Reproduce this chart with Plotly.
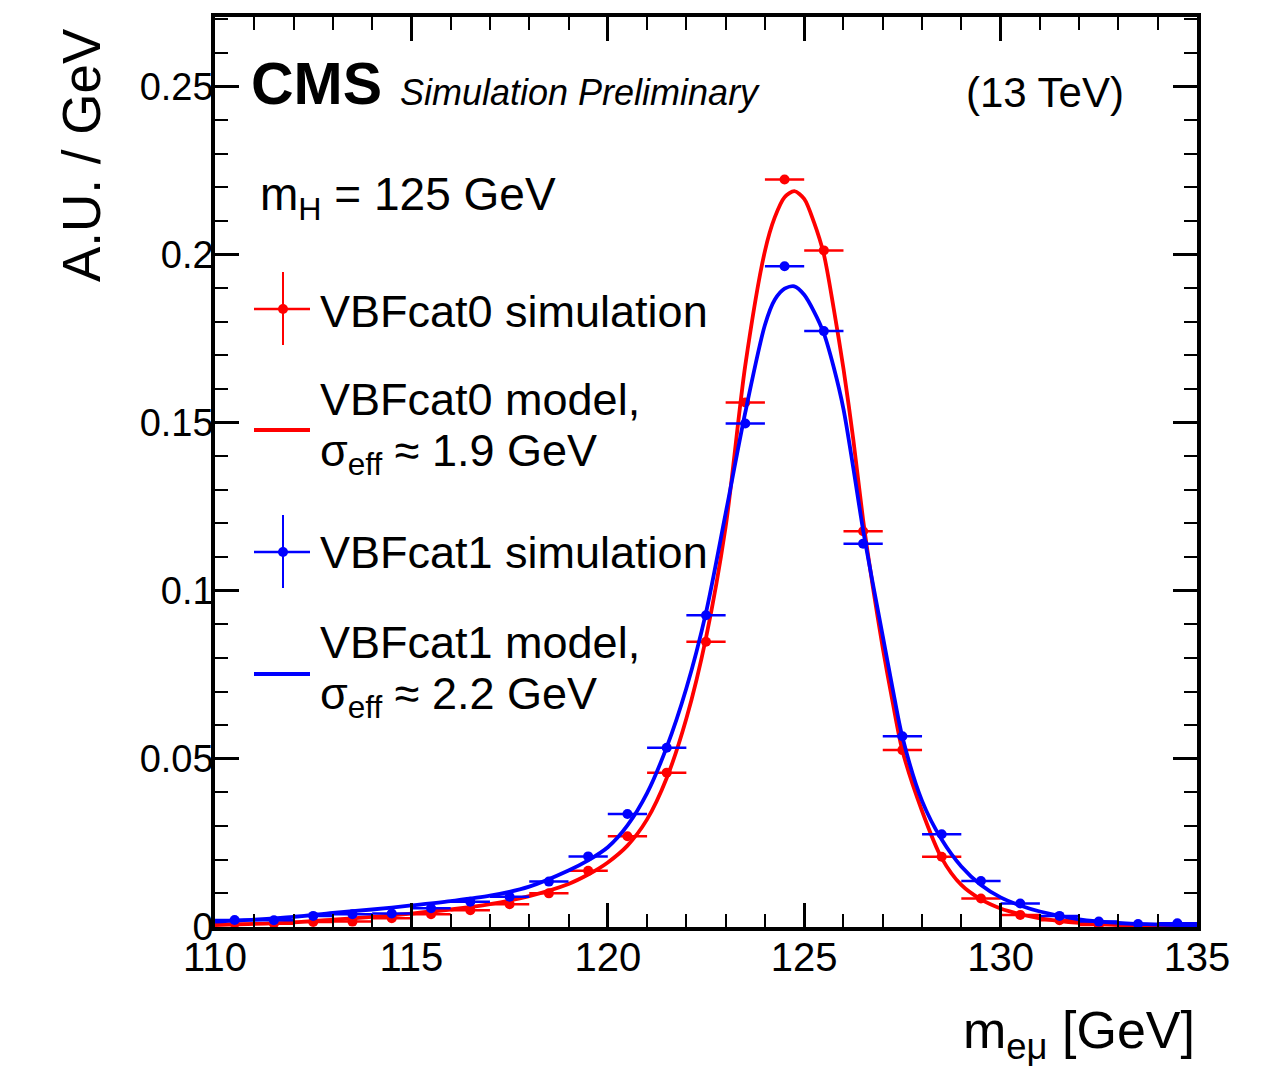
import plotly.graph_objects as go

# ---- data -------------------------------------------------------------
# bin centres of the simulated m_emu distributions (1 GeV bins)
bin_centers = [110.5, 111.5, 112.5, 113.5, 114.5, 115.5, 116.5, 117.5, 118.5,
               119.5, 120.5, 121.5, 122.5, 123.5, 124.5, 125.5, 126.5, 127.5,
               128.5, 129.5, 130.5, 131.5, 132.5, 133.5, 134.5]
bin_half_width = [0.5] * len(bin_centers)

cat0_sim = [0.0010, 0.0010, 0.0015, 0.0016, 0.0026, 0.0038, 0.0050, 0.0068, 0.0100,
            0.0167, 0.0270, 0.0459, 0.0848, 0.1560, 0.2223, 0.2012, 0.1177, 0.0526,
            0.0209, 0.0085, 0.0036, 0.0020, 0.0006, 0.0004, 0.0003]
cat1_sim = [0.0021, 0.0020, 0.0033, 0.0038, 0.0040, 0.0056, 0.0075, 0.0090, 0.0135,
            0.0210, 0.0336, 0.0533, 0.0927, 0.1497, 0.1965, 0.1772, 0.1140, 0.0567,
            0.0276, 0.0137, 0.0070, 0.0033, 0.0016, 0.0009, 0.0011]

# sampled signal-model curves
model_x = [110, 111, 112, 113, 114, 115, 116, 117, 118, 119, 119.5, 120, 120.5, 121,
           121.5, 122, 122.5, 123, 123.5, 124, 124.25, 124.5, 124.75, 125, 125.25,
           125.5, 125.75, 126, 126.25, 126.5, 126.75, 127, 127.25, 127.5, 128, 128.5,
           129, 129.5, 130, 130.5, 131, 132, 133, 134, 135]
cat0_model = [0.0006, 0.0009, 0.0014, 0.0022, 0.0030, 0.0040, 0.0052, 0.0068, 0.0092,
              0.0128, 0.0156, 0.0192, 0.0242, 0.0320, 0.0443, 0.0620, 0.0860, 0.1190,
              0.1670, 0.2010, 0.2110, 0.2170, 0.2188, 0.2165, 0.2095, 0.2000, 0.1840,
              0.1660, 0.1450, 0.1210, 0.1010, 0.0830, 0.0670, 0.0525, 0.0345, 0.0205,
              0.0125, 0.0082, 0.0055, 0.0038, 0.0026, 0.0012, 0.0006, 0.0003, 0.0002]
cat1_model = [0.0016, 0.0022, 0.0030, 0.0042, 0.0052, 0.0064, 0.0077, 0.0093, 0.0120,
              0.0168, 0.0198, 0.0237, 0.0302, 0.0398, 0.0535, 0.0710, 0.0935, 0.1230,
              0.1530, 0.1790, 0.1865, 0.1898, 0.1905, 0.1880, 0.1830, 0.1765, 0.1665,
              0.1540, 0.1365, 0.1180, 0.1020, 0.0865, 0.0710, 0.0565, 0.0375, 0.0260,
              0.0180, 0.0125, 0.0088, 0.0064, 0.0046, 0.0023, 0.0012, 0.0007, 0.0005]

x_tick_vals = [110, 115, 120, 125, 130, 135]
y_tick_vals = [0, 0.05, 0.1, 0.15, 0.2, 0.25]
y_tick_text = ["0", "0.05", "0.1", "0.15", "0.2", "0.25"]

RED = "#ff0000"
BLUE = "#0000ff"
FONT = "Liberation Sans, Arial, Helvetica, sans-serif"

# ---- page geometry ----------------------------------------------------
W, H = 1261, 1072
L, R, T, B = 215, 64, 17, 145
PW, PH = W - L - R, H - T - B


def px(xp):
    return (xp - L) / PW


def py(yp):
    return (H - B - yp) / PH


fig = go.Figure()


def sim_trace(y, color, name):
    return go.Scatter(
        x=bin_centers, y=y, mode="markers", name=name,
        marker=dict(color=color, size=10),
        error_x=dict(type="data", array=bin_half_width, color=color,
                     thickness=2.5, width=0),
        showlegend=False, cliponaxis=True,
    )


def model_trace(y, color, name):
    return go.Scatter(
        x=model_x, y=y, mode="lines", name=name,
        line=dict(color=color, width=3.8, shape="spline", smoothing=0.8),
        showlegend=False,
    )


fig.add_trace(sim_trace(cat0_sim, RED, "VBFcat0 simulation"))
fig.add_trace(model_trace(cat0_model, RED, "VBFcat0 model"))
fig.add_trace(sim_trace(cat1_sim, BLUE, "VBFcat1 simulation"))
fig.add_trace(model_trace(cat1_model, BLUE, "VBFcat1 model"))

axis_common = dict(
    showline=True, linecolor="black", linewidth=3.5, mirror="allticks",
    ticks="inside", ticklen=24, tickwidth=2.5, tickcolor="black",
    showgrid=False, zeroline=False,
)

fig.update_xaxes(
    range=[110, 135], tickmode="array", tickvals=x_tick_vals,
    tickfont=dict(family=FONT, size=40, color="black"), ticklabelstandoff=-8,
    minor=dict(dtick=1, tick0=110, ticks="inside", ticklen=13, tickwidth=2,
               tickcolor="black"),
    **axis_common,
)
fig.update_yaxes(
    range=[0, 0.2706], tickmode="array", tickvals=y_tick_vals, ticktext=y_tick_text,
    tickfont=dict(family=FONT, size=38, color="black"), ticklabelstandoff=-10,
    minor=dict(dtick=0.01, tick0=0, ticks="inside", ticklen=13, tickwidth=2,
               tickcolor="black"),
    **axis_common,
)

ann = []


def text(x, y, s, size, xanchor="left", yanchor="middle", angle=0):
    ann.append(dict(x=x, y=y, xref="paper", yref="paper", text=s, showarrow=False,
                    xanchor=xanchor, yanchor=yanchor, textangle=angle,
                    font=dict(family=FONT, size=size, color="black")))


# header
text(px(249), py(84), "<b>CMS</b>", 59)
text(px(398), py(92), "<i>Simulation Preliminary</i>", 36)
text(px(1126), py(92), "(13 TeV)", 42, xanchor="right")

# axis titles
text(px(1197), py(1034), "m<sub>eμ</sub> [GeV]", 52, xanchor="right")
text(px(82), py(26), "A.U. / GeV", 53, xanchor="center", yanchor="top", angle=-90)

# legend block
text(px(258), py(198), "m<sub>H</sub> = 125 GeV", 46)
text(px(318), py(312), "VBFcat0 simulation", 45)
text(px(318), py(400), "VBFcat0 model,", 45)
text(px(318), py(454), "σ<sub>eff</sub> ≈ 1.9 GeV", 45)
text(px(318), py(552), "VBFcat1 simulation", 45)
text(px(318), py(642), "VBFcat1 model,", 45)
text(px(318), py(696), "σ<sub>eff</sub> ≈ 2.2 GeV", 45)

shapes = []


def seg(x0, y0, x1, y1, color, width):
    shapes.append(dict(type="line", xref="paper", yref="paper",
                       x0=px(x0), y0=py(y0), x1=px(x1), y1=py(y1),
                       line=dict(color=color, width=width)))


def dot(xc, yc, r, color):
    shapes.append(dict(type="circle", xref="paper", yref="paper",
                       x0=px(xc - r), x1=px(xc + r), y0=py(yc - r), y1=py(yc + r),
                       fillcolor=color, line=dict(color=color, width=0)))


# legend symbols: markers with error crosses, and model lines
for yc, col in ((309, RED), (552, BLUE)):
    seg(283, yc - 37, 283, yc + 36, col, 2)
    seg(254, yc, 310, yc, col, 2.5)
    dot(283, yc, 5, col)
seg(254, 430, 310, 430, RED, 3.8)
seg(254, 674, 310, 674, BLUE, 3.8)

fig.update_layout(
    width=W, height=H,
    margin=dict(l=L, r=R, t=T, b=B, pad=0),
    paper_bgcolor="white", plot_bgcolor="white",
    annotations=ann, shapes=shapes,
    showlegend=False,
)

fig.write_html("out.html")
